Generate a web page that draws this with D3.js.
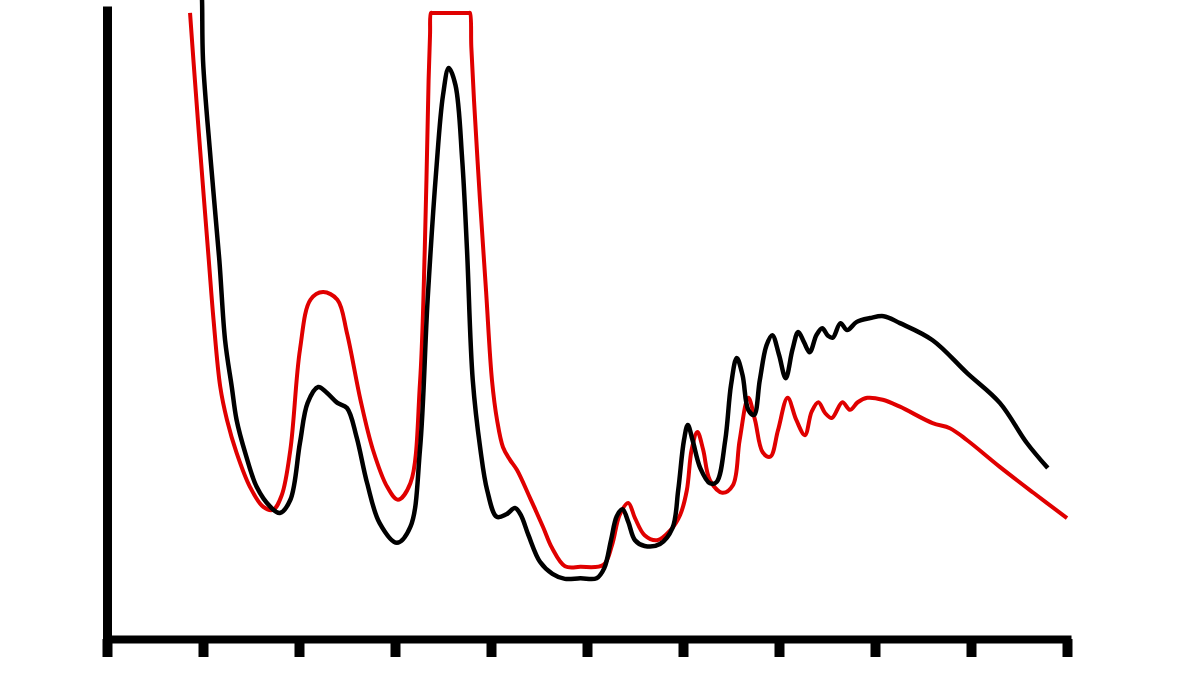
<!DOCTYPE html>
<html>
<head>
<meta charset="utf-8">
<script src="https://cdn.jsdelivr.net/npm/d3@7"></script>
<style>
	body { margin: 0; background: #fff; }
	svg { display: block; }
</style>
</head>
<body>
<svg id="chart" width="1200" height="675"></svg>
<script>
// x in tick units (0..10), y in arbitrary intensity units (0..100)
var xTicks = [0, 1, 2, 3, 4, 5, 6, 7, 8, 9, 10];

var blackX = [0.98, 0.99, 1.00, 1.08, 1.17, 1.23, 1.30, 1.35, 1.44, 1.56, 1.70, 1.80, 1.91, 2.01, 2.09, 2.20, 2.29, 2.40, 2.50, 2.60, 2.71, 2.84, 3.02, 3.16, 3.26, 3.34, 3.43, 3.50, 3.56, 3.63, 3.70, 3.75, 3.81, 3.89, 3.96, 4.06, 4.16, 4.25, 4.31, 4.39, 4.51, 4.64, 4.77, 4.93, 5.10, 5.18, 5.25, 5.31, 5.37, 5.43, 5.50, 5.60, 5.76, 5.89, 5.95, 6.01, 6.05, 6.10, 6.18, 6.28, 6.35, 6.44, 6.50, 6.56, 6.62, 6.68, 6.74, 6.80, 6.87, 6.93, 7.00, 7.07, 7.14, 7.20, 7.26, 7.32, 7.39, 7.45, 7.51, 7.56, 7.64, 7.71, 7.81, 7.95, 8.09, 8.26, 8.60, 8.96, 9.30, 9.58, 9.80];
var blackY = [104.1, 100.9, 91.5, 75.7, 59.9, 47.2, 39.8, 34.6, 29.4, 24.0, 20.9, 19.9, 22.0, 31.0, 37.3, 39.8, 38.9, 37.3, 36.5, 31.9, 24.6, 18.3, 15.2, 17.7, 29.9, 53.6, 74.1, 85.9, 90.2, 87.5, 75.7, 61.5, 40.9, 29.9, 23.5, 19.3, 19.7, 20.7, 19.6, 16.4, 12.2, 10.3, 9.5, 9.6, 9.6, 11.2, 15.6, 19.4, 20.5, 18.5, 15.6, 14.7, 15.0, 17.5, 23.5, 31.4, 33.8, 31.4, 27.0, 24.6, 24.8, 31.4, 40.1, 44.4, 41.7, 36.2, 35.4, 40.9, 46.4, 48.0, 44.9, 41.2, 45.7, 48.5, 46.9, 45.3, 48.0, 49.1, 47.9, 47.6, 49.9, 48.8, 50.1, 50.7, 51.0, 49.9, 47.2, 42.0, 37.3, 31.0, 27.0];

var redX = [0.865, 0.90, 0.97, 1.06, 1.11, 1.18, 1.25, 1.35, 1.49, 1.625, 1.73, 1.82, 1.91, 2.01, 2.12, 2.25, 2.40, 2.50, 2.64, 2.77, 2.92, 3.03, 3.16, 3.26, 3.31, 3.35, 3.365, 3.375, 3.39, 3.77, 3.781, 3.795, 3.823, 3.885, 3.948, 4.01, 4.063, 4.125, 4.198, 4.271, 4.406, 4.542, 4.635, 4.771, 4.93, 5.17, 5.26, 5.34, 5.43, 5.50, 5.60, 5.73, 5.87, 5.97, 6.04, 6.09, 6.15, 6.21, 6.28, 6.41, 6.52, 6.59, 6.68, 6.75, 6.83, 6.91, 6.99, 7.09, 7.18, 7.27, 7.34, 7.41, 7.48, 7.55, 7.66, 7.74, 7.82, 7.92, 8.08, 8.26, 8.60, 8.78, 8.96, 9.30, 9.65, 10.0];
var redY = [98.9, 91.5, 77.3, 59.9, 50.4, 39.8, 34.6, 29.4, 24.0, 20.9, 20.4, 22.7, 29.9, 45.7, 53.6, 54.8, 53.6, 48.3, 37.8, 29.9, 24.0, 22.0, 24.6, 40.4, 61.5, 88.3, 95.5, 98.9, 98.9, 98.9, 98.9, 93.5, 85.1, 69.4, 55.1, 40.9, 34.6, 30.3, 28.3, 26.7, 22.3, 17.7, 14.4, 11.5, 11.4, 11.7, 14.8, 19.6, 21.5, 19.1, 16.4, 15.6, 17.2, 19.6, 23.5, 29.9, 32.7, 29.9, 25.1, 23.1, 24.3, 31.4, 38.1, 34.6, 29.5, 28.8, 33.0, 38.1, 34.6, 32.2, 35.9, 37.4, 35.7, 34.9, 37.4, 36.2, 37.4, 38.1, 37.8, 36.7, 34.1, 33.3, 31.4, 27.2, 23.1, 19.1];

function zipSeries(xs, ys) {
	var pts = [];
	for (var ii = 0; ii < xs.length; ++ii) {
		pts.push({ x: xs[ii], y: ys[ii] });
	}
	return pts;
}

var svg = d3.select("#chart");

var x = d3.scaleLinear().domain([0, 10]).range([107, 1067]);
var y = d3.scaleLinear().domain([0, 100]).range([639, 6]);

var line = d3.line()
	.x(function(d) { return x(d.x); })
	.y(function(d) { return y(d.y); })
	.curve(d3.curveCatmullRom.alpha(0.5));

svg.append("path")
	.datum(zipSeries(redX, redY))
	.attr("d", line)
	.attr("fill", "none")
	.attr("stroke", "#e00000")
	.attr("stroke-width", 4)
	.attr("stroke-linejoin", "miter");

svg.append("path")
	.datum(zipSeries(blackX, blackY))
	.attr("d", line)
	.attr("fill", "none")
	.attr("stroke", "#000")
	.attr("stroke-width", 4.5)
	.attr("stroke-linejoin", "round");

// y axis: plain thick bar, no ticks
var yAxis = svg.append("g")
	.attr("transform", "translate(107,0)")
	.call(d3.axisLeft(y).tickValues([]).tickSizeOuter(0));
yAxis.select(".domain").attr("stroke", "#000").attr("stroke-width", 9);

// x axis: thick bar with unlabeled ticks hanging down
var xAxis = svg.append("g")
	.attr("transform", "translate(0,639)")
	.call(d3.axisBottom(x).tickValues(xTicks).tickSize(18).tickSizeOuter(0).tickFormat(""));
xAxis.select(".domain")
	.attr("stroke", "#000")
	.attr("stroke-width", 8)
	.attr("stroke-linecap", "square");
xAxis.selectAll(".tick line")
	.attr("stroke", "#000")
	.attr("stroke-width", 10);
</script>
</body>
</html>
